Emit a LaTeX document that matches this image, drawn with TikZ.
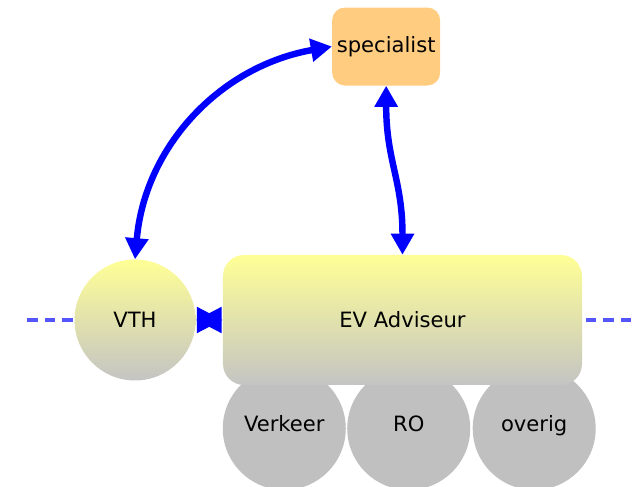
\documentclass[tikz,border=0pt]{standalone}
\usepackage{fontspec}
\setmainfont{DejaVu Sans}
\usepackage{tikz}
\usetikzlibrary{arrows.meta, shapes, positioning, backgrounds}

\definecolor{specorange}{RGB}{255,204,128}
\definecolor{evyellow}{RGB}{255,255,150}
\definecolor{evgray}{RGB}{196,196,196}
\definecolor{subgray}{RGB}{192,192,192}
\definecolor{linkblue}{RGB}{0,0,255}
\definecolor{dashblue}{RGB}{85,85,255}

\begin{document}
\begin{tikzpicture}[x=0.03cm, y=-0.03cm, font=\fontsize{18}{20}\selectfont,
        bigarrow/.style={line width=5.5pt, draw=linkblue, {Triangle[width=19pt,length=18pt]}-{Triangle[width=19pt,length=18pt]}},
        bowtie/.style={line width=5pt, draw=linkblue, {Triangle[width=21pt,length=22pt]}-{Triangle[width=21pt,length=22pt]}},
        dashlink/.style={line width=3.5pt, draw=dashblue, dash pattern=on 9pt off 6pt}]
            % \tikzstyle{sub}=[circle, fill=subgray, minimum size=3.69cm]
            \useasboundingbox (0,0) rectangle (632,487);
            \node[rounded corners=18pt, minimum width=10.77cm, minimum height=3.9cm, top color=evyellow, bottom color=evgray] (EV) at (402.5,320) {EV Adviseur};
            \node[circle, minimum size=3.63cm, top color=evyellow, bottom color=evgray] (VTH) [left=0.81cm of EV] {VTH};
            \node[rounded corners=11pt, minimum width=3.24cm, minimum height=2.34cm, fill=specorange] (specialist) [above=5.07cm of EV, xshift=-0.49cm] {specialist};
            \begin{scope}[on background layer, every node/.style={text height=0.75em, text depth=0.2em}]
                \node[circle, fill=subgray, minimum size=3.69cm] (Verkeer) [below=-0.555cm of EV.south west, xshift=1.845cm] {Verkeer};
                \node[circle, fill=subgray, minimum size=3.69cm] (RO) [right=0.03cm of Verkeer] {RO};
                \node[circle, fill=subgray, minimum size=3.69cm] (overig) [right=0.06cm of RO] {overig};
            \end{scope}

            \coordinate (dashL) at (27,320);
            \coordinate (dashR) at (632,320);

            \path (VTH.north) edge [bigarrow, out=85, in=190] (specialist.west);
            \draw[bigarrow] (specialist.south) .. controls +(0,75) and +(0,-75) .. (EV.north);
            \path (VTH.east) edge [bowtie] (EV.west);
            \path (dashL) edge [dashlink] (VTH);
            \path (EV) edge [dashlink, shorten <=3pt] (dashR);
        \end{tikzpicture}
\end{document}
